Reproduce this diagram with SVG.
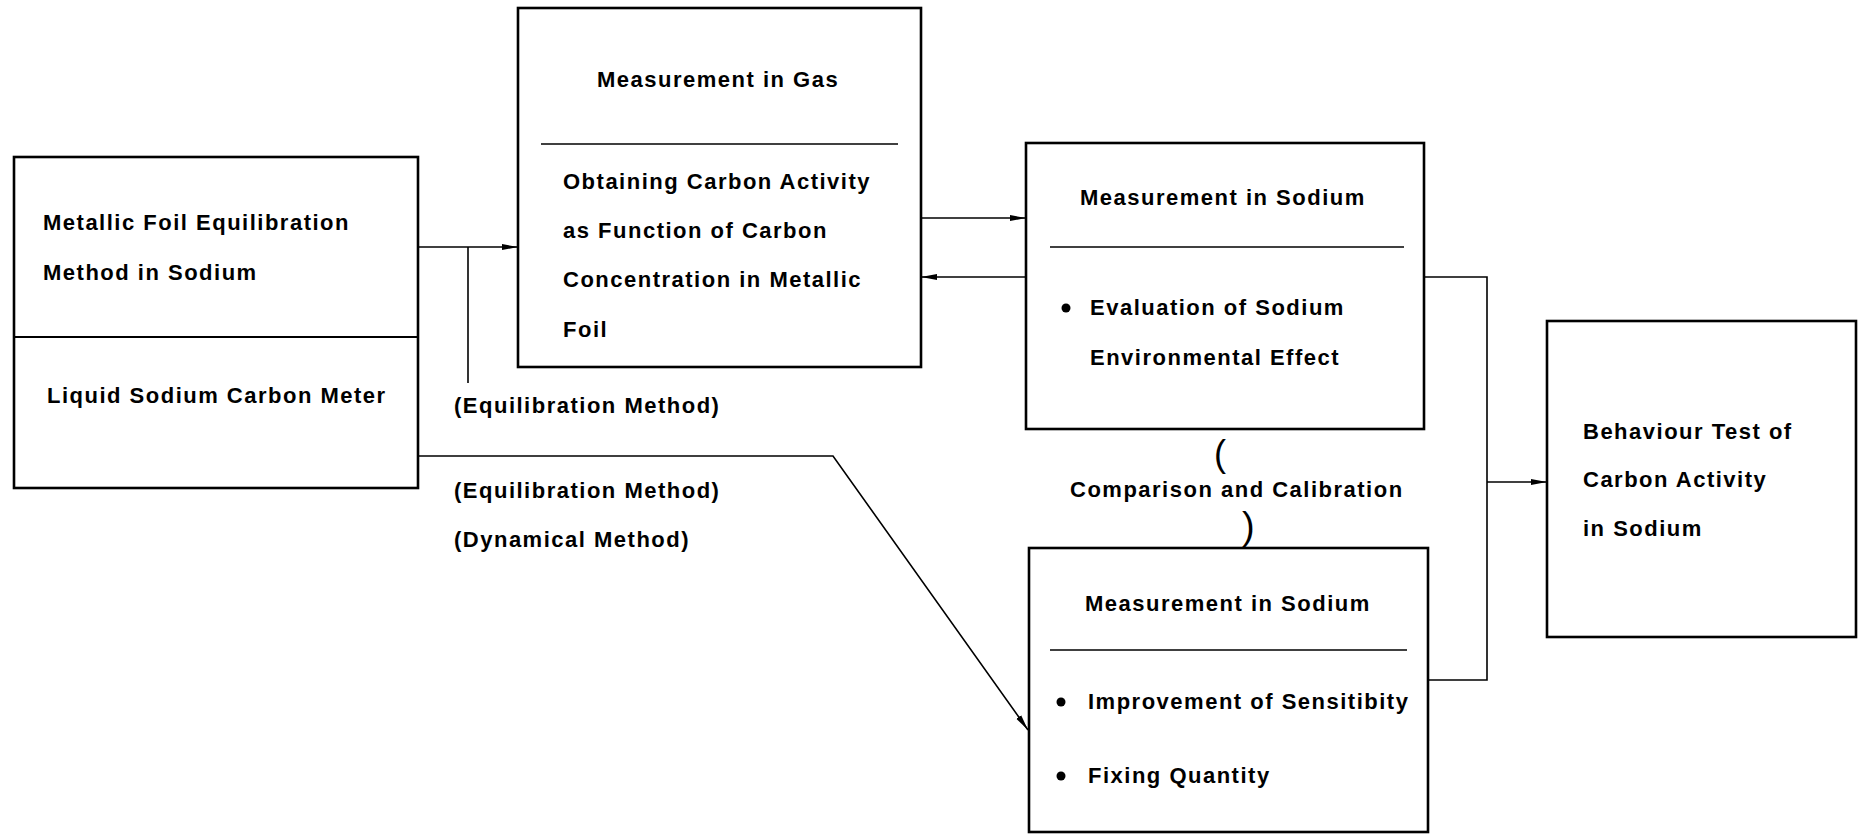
<svg xmlns="http://www.w3.org/2000/svg" width="1858" height="838" viewBox="0 0 1858 838">
<style>
.box{fill:#fff;stroke:#000;stroke-width:2.6}
.div{stroke:#000;stroke-width:1.3;fill:none}
.con{stroke:#000;stroke-width:1.6;fill:none}
text{font-family:"Liberation Sans",Arial,sans-serif;font-size:22px;font-weight:bold;letter-spacing:1.5px;fill:#000}
text.p1{font-size:36px;font-weight:normal;letter-spacing:0}
text.p2{font-size:38px;font-weight:normal;letter-spacing:0}
</style>
<defs>
<marker id="arr" viewBox="0 0 16 8" refX="16" refY="4" markerWidth="16" markerHeight="8" markerUnits="userSpaceOnUse" orient="auto">
<path d="M0,1 L16,4 L0,7 Z" fill="#000"/>
</marker>
</defs>
<rect width="1858" height="838" fill="#fff"/>
<g id="connectors">
<path class="con" d="M418,247 H518" marker-end="url(#arr)"/>
<path class="con" d="M468,247 V383"/>
<path class="con" d="M418,456 H833 L1028,730" marker-end="url(#arr)"/>
<path class="con" d="M921,218 H1026" marker-end="url(#arr)"/>
<path class="con" d="M1026,277 H921" marker-end="url(#arr)"/>
<path class="con" d="M1424,277 H1487 V680 H1428"/>
<path class="con" d="M1487,482 H1547" marker-end="url(#arr)"/>
</g>
<g id="node-foil">
<rect class="box" x="14" y="157" width="404" height="331"/>
<line x1="14" y1="337" x2="418" y2="337" stroke="#000" stroke-width="2"/>
<text x="43" y="230">Metallic Foil Equilibration</text>
<text x="43" y="280">Method in Sodium</text>
<text x="47" y="403">Liquid Sodium Carbon Meter</text>
</g>
<g id="node-gas">
<rect class="box" x="518" y="8" width="403" height="359"/>
<line class="div" x1="541" y1="144" x2="898" y2="144"/>
<text x="597" y="87">Measurement in Gas</text>
<text x="563" y="189">Obtaining Carbon Activity</text>
<text x="563" y="238">as Function of Carbon</text>
<text x="563" y="287">Concentration in Metallic</text>
<text x="563" y="337">Foil</text>
</g>
<g id="node-sodium1">
<rect class="box" x="1026" y="143" width="398" height="286"/>
<line class="div" x1="1050" y1="247" x2="1404" y2="247"/>
<text x="1080" y="205">Measurement in Sodium</text>
<circle cx="1066" cy="308" r="4.5" fill="#000"/>
<text x="1090" y="315">Evaluation of Sodium</text>
<text x="1090" y="365">Environmental Effect</text>
</g>
<g id="node-sodium2">
<rect class="box" x="1029" y="548" width="399" height="284"/>
<line class="div" x1="1050" y1="650" x2="1407" y2="650"/>
<text x="1085" y="611">Measurement in Sodium</text>
<circle cx="1061" cy="702" r="4.5" fill="#000"/>
<text x="1088" y="709">Improvement of Sensitibity</text>
<circle cx="1061" cy="776" r="4.5" fill="#000"/>
<text x="1088" y="783">Fixing Quantity</text>
</g>
<g id="node-behaviour">
<rect class="box" x="1547" y="321" width="309" height="316"/>
<text x="1583" y="439">Behaviour Test of</text>
<text x="1583" y="487">Carbon Activity</text>
<text x="1583" y="536">in Sodium</text>
</g>
<g id="labels">
<text x="454" y="413">(Equilibration Method)</text>
<text x="454" y="498">(Equilibration Method)</text>
<text x="454" y="547">(Dynamical Method)</text>
<text class="p1" x="1214" y="466">(</text>
<text x="1070" y="497">Comparison and Calibration</text>
<text class="p2" x="1242" y="539">)</text>
</g>
</svg>
